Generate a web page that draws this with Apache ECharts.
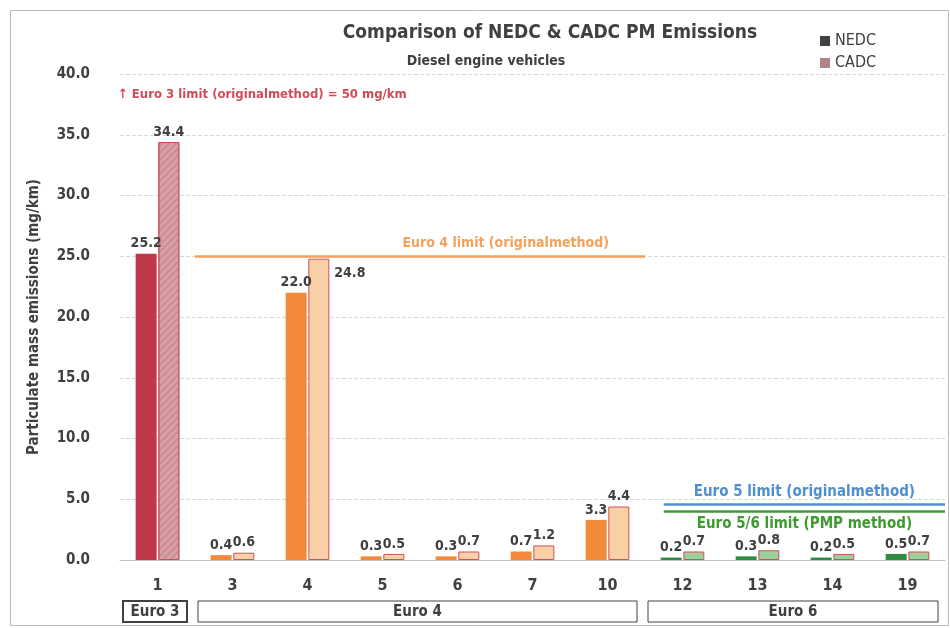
<!DOCTYPE html>
<html><head><meta charset="utf-8">
<script src="https://cdn.jsdelivr.net/npm/echarts@6/dist/echarts.min.js"></script>
<style>html,body{margin:0;padding:0;background:#fff}#c{width:950px;height:628px}</style>
</head><body><div id="c"></div>
<script>
var categories = ['1','3','4','5','6','7','10','12','13','14','19'];
var nedc = [25.2,0.4,22.0,0.3,0.3,0.7,3.3,0.2,0.3,0.2,0.5];
var cadc = [34.4,0.6,24.8,0.5,0.7,1.2,4.4,0.7,0.8,0.5,0.7];
var euroClass = ['Euro 3','Euro 4','Euro 4','Euro 4','Euro 4','Euro 4','Euro 4','Euro 6','Euro 6','Euro 6','Euro 6'];
var groupNames = ['Euro 3','Euro 4','Euro 6'];
var groupStart = [0,1,7];
var groupEnd = [1,7,11];
var limitNames = ['Euro 4 limit (originalmethod)','Euro 5 limit (originalmethod)','Euro 5/6 limit (PMP method)'];
var limitValues = [25, 4.6, 4.0];
var limitFrom = [1, 7.25, 7.25];
var limitTo = [7, 11, 11];

var FONT = '"DejaVu Sans Condensed","Liberation Sans Narrow",sans-serif';
var nedcColors = {'Euro 3':'#c0364a','Euro 4':'#f38a3a','Euro 6':'#2e8b3f'};
var cadcColors = {'Euro 3':'#d9a1a7','Euro 4':'#f9cfa6','Euro 6':'#9dd09d'};
var limitColors = ['#f4a15c','#4f8fcf','#3e9a2f'];
var limitLabelPos = ['insideEndTop','insideMiddleTop','insideMiddleBottom'];

var chart = echarts.init(document.getElementById('c'));
var labelStyle = {show:true, position:'top', distance:3, color:'#404040', fontFamily:FONT, fontWeight:'bold', fontSize:14,
  formatter:function(p){return p.value.toFixed(1);}};

var nedcData = nedc.map(function(v,i){return {value:v, itemStyle:{color:nedcColors[euroClass[i]]}};});
var cadcData = cadc.map(function(v,i){
  var d = {value:v, itemStyle:{color:cadcColors[euroClass[i]], borderColor:'#c9545a', borderWidth:1}};
  if (euroClass[i]==='Euro 3') d.itemStyle.decal = {symbol:'rect', symbolSize:1, dashArrayX:[1,0], dashArrayY:[2,3], rotation:-Math.PI/4, color:'rgba(160,80,90,0.25)'};
  if (i===2) d.label = {position:[26,8]};
  return d;
});

var limitSeries = limitNames.map(function(n,i){
  return {type:'line', xAxisIndex:1, yAxisIndex:0, silent:true, showSymbol:false, symbol:'none',
    lineStyle:{opacity:0}, data:[[limitFrom[i],limitValues[i]],[limitTo[i],limitValues[i]]],
    markLine:{silent:true, symbol:'none', animation:false,
      lineStyle:{type:'solid', color:limitColors[i], width:2.5},
      label:{show:true, position:limitLabelPos[i], formatter:n, color:limitColors[i], fontFamily:FONT, fontWeight:'bold', fontSize:i===0?14:15,
        distance: i===0 ? [36,6] : 5},
      data:[[{coord:[limitFrom[i],limitValues[i]]},{coord:[limitTo[i],limitValues[i]]}]]}};
});

chart.setOption({
  animation:false,
  title:[
    {text:'Comparison of NEDC & CADC PM Emissions', left:545, top:19, textAlign:'center',
     textStyle:{fontFamily:FONT, fontWeight:'bold', fontSize:19, color:'#404040'}},
    {text:'Diesel engine vehicles', left:481, top:49, textAlign:'center',
     textStyle:{fontFamily:FONT, fontWeight:'bold', fontSize:14, color:'#404040'}}
  ],
  legend:{data:['NEDC','CADC'], orient:'vertical', left:815, top:28, itemWidth:10, itemHeight:10, itemGap:6, icon:'rect',
    textStyle:{fontFamily:FONT, fontSize:16, color:'#404040'}},
  grid:{left:120, right:5, top:74, bottom:68},
  xAxis:[
    {type:'category', data:categories, axisLine:{lineStyle:{color:'#bfbfbf'}}, axisTick:{lineStyle:{color:'#bfbfbf'}},
     axisLabel:{color:'#404040', fontFamily:FONT, fontWeight:'bold', fontSize:16, margin:18}},
    {type:'value', min:0, max:11, show:false}
  ],
  yAxis:{type:'value', min:0, max:40, interval:5,
    name:'Particulate mass emissions (mg/km)', nameLocation:'middle', nameGap:78,
    nameTextStyle:{fontFamily:FONT, fontWeight:'bold', fontSize:15, color:'#404040'},
    axisLine:{show:false}, axisTick:{show:false},
    axisLabel:{color:'#404040', fontFamily:FONT, fontWeight:'bold', fontSize:15, margin:30, formatter:function(v){return v.toFixed(1);}},
    splitLine:{lineStyle:{color:'#d9d9d9', type:'dashed'}}},
  series:[
    {name:'NEDC', type:'bar', barWidth:21, barGap:'8%', itemStyle:{color:'#404040'}, label:labelStyle, data:nedcData},
    {name:'CADC', type:'bar', barWidth:21, barGap:'8%', itemStyle:{color:'#b08588'}, label:labelStyle, data:cadcData}
  ].concat(limitSeries)
});

var g = [
  {type:'rect', left:8, top:8, shape:{width:938, height:615}, style:{fill:'none', stroke:'#bdbdbd', lineWidth:1}, silent:true},
  {type:'text', left:118, top:88, style:{text:'\u2191 Euro 3 limit (originalmethod) = 50 mg/km', fill:'#cf4b55', font:'bold 13px '+FONT}}
];
groupNames.forEach(function(n,i){
  var x0 = chart.convertToPixel({xAxisIndex:1}, groupStart[i]) + 3;
  var x1 = chart.convertToPixel({xAxisIndex:1}, groupEnd[i]) - (i===2?7:8);
  g.push({type:'rect', shape:{x:x0, y:601, width:x1-x0, height:21}, style:{fill:'#fff', stroke:'#404040', lineWidth:i===0?2:1}, silent:true});
  g.push({type:'text', x:(x0+x1)/2, y:612, style:{text:n, fill:'#404040', font:'bold 15px '+FONT, align:'center', verticalAlign:'middle'}});
});
chart.setOption({graphic:g});
</script></body></html>
